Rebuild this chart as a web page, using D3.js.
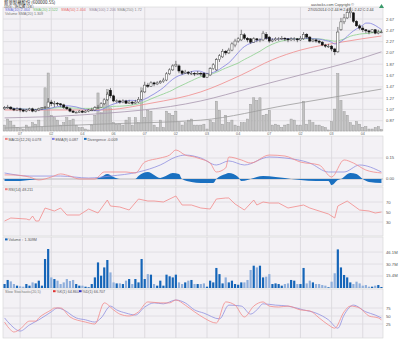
<!DOCTYPE html>
<html><head><meta charset="utf-8">
<script src="https://cdn.jsdelivr.net/npm/d3@7"></script>
<style>
body{margin:0;background:#fff}
svg{display:block}
text{font-family:"Liberation Sans",Arial,sans-serif}
</style></head>
<body><svg id="c" width="400" height="340"></svg>
<script>
// ---------- DATA ----------
const openP=[1.08,1.10,1.11,1.08,1.06,1.08,1.06,1.04,1.06,1.08, 1.04,1.06,1.08,1.10,1.11,1.20,1.17,1.18,1.17,1.15,
1.11,1.08,1.04,1.02,1.02,1.04,1.02,1.04,1.06,1.06, 1.10,1.11,1.17,1.24,1.41,1.31,1.22,1.22,1.20,1.22,
1.18,1.20,1.18,1.20,1.25,1.38,1.50,1.48,1.54,1.52, 1.54,1.56,1.59,1.70,1.77,1.84,1.84,1.75,1.71,1.73,
1.71,1.71,1.70,1.71,1.71,1.64,1.68,1.79,1.77,1.95, 2.00,2.10,2.07,2.12,2.21,2.28,2.30,2.39,2.33,2.32,
2.26,2.32,2.30,2.30,2.40,2.35,2.28,2.30,2.32,2.32, 2.33,2.32,2.30,2.32,2.32,2.30,2.32,2.40,2.35,2.28,
2.30,2.28,2.26,2.21,2.19,2.19,2.14,2.09,2.48,2.62, 2.69,2.78,2.78,2.63,2.55,2.51,2.48,2.46,2.44,2.48, 2.42,2.44];
const closeP=[1.10,1.11,1.08,1.06,1.08,1.06,1.04,1.06,1.08,1.04, 1.06,1.08,1.10,1.11,1.20,1.17,1.18,1.17,1.15,1.11,
1.08,1.04,1.02,1.02,1.04,1.02,1.04,1.06,1.06,1.10, 1.11,1.17,1.24,1.34,1.31,1.22,1.22,1.20,1.22,1.18,
1.20,1.18,1.20,1.25,1.38,1.50,1.48,1.54,1.52,1.54, 1.56,1.59,1.70,1.77,1.84,1.87,1.75,1.71,1.73,1.71,
1.71,1.70,1.71,1.70,1.64,1.70,1.79,1.86,1.95,2.02, 2.10,2.07,2.12,2.23,2.28,2.32,2.40,2.33,2.30,2.26,
2.32,2.30,2.30,2.42,2.33,2.28,2.30,2.32,2.32,2.33, 2.32,2.30,2.32,2.32,2.30,2.33,2.40,2.35,2.28,2.30,
2.28,2.26,2.21,2.19,2.19,2.14,2.09,2.44,2.62,2.69, 2.79,2.81,2.63,2.55,2.51,2.48,2.46,2.44,2.48,2.42, 2.44,2.44];
const highP=[1.13,1.15,1.13,1.10,1.11,1.10,1.08,1.08,1.10,1.10, 1.08,1.10,1.11,1.13,1.27,1.24,1.22,1.20,1.18,1.17,
1.13,1.10,1.06,1.04,1.06,1.06,1.06,1.08,1.10,1.13, 1.15,1.20,1.27,1.38,1.45,1.33,1.25,1.24,1.25,1.24,
1.24,1.22,1.24,1.29,1.41,1.56,1.54,1.57,1.56,1.57, 1.59,1.63,1.73,1.80,1.87,1.93,1.87,1.77,1.77,1.75,
1.75,1.73,1.75,1.73,1.73,1.71,1.82,1.89,1.98,2.05, 2.14,2.12,2.16,2.26,2.32,2.35,2.48,2.42,2.35,2.33,
2.35,2.33,2.33,2.46,2.44,2.37,2.33,2.35,2.35,2.37, 2.35,2.33,2.35,2.35,2.33,2.37,2.44,2.42,2.37,2.32,
2.32,2.30,2.28,2.23,2.23,2.21,2.16,2.53,2.69,2.76, 2.85,2.88,2.79,2.65,2.58,2.55,2.49,2.48,2.49,2.49, 2.48,2.48];
const lowP=[1.06,1.08,1.06,1.04,1.04,1.02,1.02,1.02,1.04,1.02, 1.02,1.04,1.06,1.08,1.10,1.13,1.11,1.13,1.11,1.08,
1.06,1.02,1.01,1.01,1.01,1.01,1.01,1.02,1.04,1.04, 1.08,1.10,1.15,1.22,1.27,1.20,1.18,1.17,1.18,1.17,
1.17,1.15,1.17,1.18,1.24,1.36,1.45,1.47,1.48,1.50, 1.52,1.54,1.57,1.68,1.75,1.82,1.71,1.68,1.70,1.68,
1.68,1.66,1.68,1.66,1.63,1.63,1.66,1.77,1.75,1.91, 1.98,2.03,2.05,2.10,2.17,2.25,2.28,2.30,2.26,2.23,
2.25,2.26,2.26,2.28,2.30,2.25,2.26,2.28,2.28,2.30, 2.28,2.26,2.28,2.28,2.26,2.28,2.30,2.32,2.26,2.26,
2.25,2.23,2.19,2.16,2.16,2.10,2.03,2.07,2.46,2.58, 2.67,2.69,2.60,2.53,2.48,2.44,2.42,2.40,2.42,2.40, 2.40,2.42];
const volumeM=[5.1,10.3,8.5,5.1,3.0,2.2,1.7,5.1,3.0,7.2, 5.9,9.4,3.0,37.2,50.0,13.6,11.5,9.4,5.1,7.2,
11.5,9.0,10.3,5.1,3.0,3.0,1.7,0.9,5.1,13.6, 32.8,15.8,26.4,35.9,20.0,7.2,5.9,6.0,5.1,9.4,
11.5,5.1,11.5,7.2,37.2,11.5,17.8,17.1,5.1,3.0, 9.4,3.0,17.1,15.0,13.6,17.1,7.2,5.1,7.2,9.4,
10.3,5.1,5.1,5.1,5.9,1.7,9.4,7.2,25.7,17.8, 5.9,13.6,7.2,9.4,5.1,4.2,7.2,7.2,10.3,23.1,
28.6,26.4,28.6,13.6,14.5,17.8,5.1,5.9,5.1,3.0, 5.1,5.9,10.3,9.4,5.1,5.1,25.7,5.9,9.4,7.2,
5.1,5.1,3.8,3.0,0.9,8.1,18.9,49.5,26.4,16.7, 13.6,7.2,5.1,8.1,5.9,3.0,3.8,1.7,1.7,3.0, 3.8,1.3];

// long moving averages (bar index, price)
const sma50Idx=[0,15,31,47,63,76,86,95,108,121];
const sma50Val=[1.06,1.06,1.06,1.18,1.38,1.68,1.95,2.12,2.26,2.37];
const sma100Idx=[0,24,63,79,95,112,121];
const sma100Val=[0.92,0.97,1.22,1.45,1.68,1.93,2.09];
const sma250Idx=[0,31,63,91,121];
const sma250Val=[0.74,0.81,0.88,1.15,1.43];

// MACD
const macdIdx=[0,2,8,11,15,18,21,24,29,32,34,39,42,45,50,53,55,58,61,63,66,68,71,72,76,79,85,90,95,101,105,109,112,116,121];
const macdVal=[0.029,0.029,0.014,-0.007,0.014,0.036,0.021,0.000,0.000,0.050,0.050,0.050,0.043,0.121,0.150,0.171,0.207,0.171,0.157,0.143,0.114,0.050,0.079,0.157,0.136,0.114,0.171,0.164,0.121,0.100,0.014,0.136,0.114,0.064,0.043];
const sigIdx=[0,8,18,27,34,43,50,55,58,63,68,72,77,85,90,98,104,109,114,121];
const sigVal=[0.043,0.021,0.021,0.007,0.021,0.050,0.100,0.157,0.171,0.150,0.100,0.129,0.100,0.157,0.150,0.114,0.050,0.050,0.100,0.050];
const divIdx=[0,5,8,13,18,24,29,31,33,35,37,42,43,46,48,50,51,54,56,57,60,63,67,68,71,72,75,76,78,79,81,83,87,90,92,95,100,104,105,107,108,111,113,115,117,121];
const divVal=[-0.014,-0.014,-0.007,0,0,0,0,0.014,0.036,0.014,0,0,0.021,0.050,0.029,0.007,0.014,0.043,0.036,0,-0.021,-0.029,-0.029,0,0.036,0.043,0.014,-0.014,-0.007,0,0.014,0.021,0.014,0.007,0,-0.007,-0.014,-0.014,-0.043,-0.007,0,0.043,0.036,0,-0.021,-0.029];

// RSI
const rsiIdx=[0,2,7,8,9,10,11,13,16,18,20,24,27,30,33,34,37,40,43,46,48,51,55,57,60,63,66,68,71,72,74,77,80,81,83,85,88,91,96,98,101,104,106,107,110,114,117,119,121];
const rsiVal=[32,38,36,34,42,32,32,58,52,58,44,44,56,48,74,62,60,54,76,72,72,70,82,64,64,58,56,76,78,78,66,54,74,64,70,68,68,58,64,58,52,46,38,62,72,54,52,48,50];

// Slow stochastic
const kIdx=[0,2,3,5,8,10,11,15,16,18,21,26,29,32,35,37,40,43,46,50,53,55,58,61,64,68,71,74,77,80,83,85,88,91,95,98,101,104,106,109,111,114,117,120,121];
const kVal=[31,6,0,9,34,34,44,69,75,75,47,31,25,91,69,56,50,63,94,91,91,100,84,63,44,28,94,84,47,81,94,81,78,81,69,66,44,22,12,63,81,75,50,44,38];
const dIdx=[0,2,5,8,11,15,17,19,23,26,29,31,34,36,39,42,45,48,51,55,58,61,64,69,72,76,79,81,83,87,91,96,100,104,107,109,112,116,119,121];
const dVal=[44,22,3,22,38,63,75,69,44,38,31,44,81,69,59,53,78,91,88,100,91,69,59,41,84,81,56,69,88,84,81,69,59,38,12,53,84,63,53,44];

// axes
const gridIdx=[5,15,25,35,45,55,65,75,85,95,105,115];
const dateLabels=["07","02","04","06","07","02","03","04","07","02","03","04"];
const priceTicks=[2.67,2.47,2.27,2.07,1.87,1.67,1.47,1.27,1.07,0.87];
const macdTicks=[0.15,0.00];
const rsiTicks=[70,50,30];
const volTicks=[15.4,30.7,46.1];
const stoTicks=[75,50,25];

// ---------- DRAW ----------
const N=closeP.length;
const svg=d3.select("#c");
const L=3,R=383;
const P={main:[7,131],macd:[136,186],rsi:[187,236],vol:[237,288],sto:[289,338]};
const x=d3.scaleBand().domain(d3.range(N)).range([L,R]).paddingInner(0.3).paddingOuter(0.15);
const cx=i=>x(i)+x.bandwidth()/2;

const yP=d3.scaleLinear().domain([0.688,2.883]).range([P.main[1],P.main[0]]);
const yV1=d3.scaleLinear().domain([0,50]).range([P.main[1],73]);
const yM=d3.scaleLinear().domain([-0.05,0.307]).range([P.macd[1],P.macd[0]]);
const yR=d3.scaleLinear().domain([0,100]).range([237,187]);
const yV=d3.scaleLinear().domain([0,65.4]).range([P.vol[1],P.vol[0]]);
const yS=d3.scaleLinear().domain([0,100]).range([332,300]);

const FS=4.2, LS=3.7;
function panel(key,ticks,scale,fmt){
  const [t,b]=P[key];
  const g=svg.append("g");
  g.append("rect").attr("x",L).attr("y",t).attr("width",R-L).attr("height",b-t)
   .attr("fill","#f3f1f5").attr("stroke","#d4d4d4").attr("stroke-width",0.6);
  g.selectAll(".v").data(gridIdx).join("line")
   .attr("x1",d=>cx(d)).attr("x2",d=>cx(d)).attr("y1",t).attr("y2",b)
   .attr("stroke","#d8d6da").attr("stroke-width",0.8);
  g.selectAll(".h").data(ticks).join("line")
   .attr("x1",L).attr("x2",R).attr("y1",d=>scale(d)).attr("y2",d=>scale(d))
   .attr("stroke","#dcdadf").attr("stroke-width",0.8);
  g.selectAll(".t").data(ticks).join("text")
   .attr("x",R+3).attr("y",d=>scale(d)+1.5).attr("font-size",FS).attr("fill","#555")
   .text(fmt);
  return g;
}

// main
panel("main",priceTicks,yP,d=>d.toFixed(2));
svg.append("g").selectAll("rect").data(volumeM).join("rect")
  .attr("x",(d,i)=>x(i)).attr("width",x.bandwidth())
  .attr("y",d=>yV1(d)).attr("height",d=>P.main[1]-yV1(d))
  .attr("fill","#c2c2c2").attr("stroke","#929292").attr("stroke-width",0.4);

// moving averages
const sma=(n)=>closeP.map((c,i)=>d3.mean(closeP.slice(Math.max(0,i-n+1),i+1)));
const sma10=sma(10), sma20=sma(20);
const lineP=d3.line().x(d=>cx(d[0])).y(d=>yP(d[1])).curve(d3.curveMonotoneX);
const zip=(a,b)=>a.map((v,i)=>[v,b[i]]);
const maG=svg.append("g").attr("fill","none").attr("stroke-width",0.8);
maG.append("path").attr("d",lineP(zip(sma250Idx,sma250Val))).attr("stroke","#9c9c9c");
maG.append("path").attr("d",lineP(zip(sma100Idx,sma100Val))).attr("stroke","#a796ad");
maG.append("path").attr("d",lineP(zip(sma50Idx,sma50Val))).attr("stroke","#f08a8a");
maG.append("path").attr("d",lineP(sma20.map((v,i)=>[i,v]))).attr("stroke","#8ccf8c");
maG.append("path").attr("d",lineP(sma10.map((v,i)=>[i,v]))).attr("stroke","#8080e0");

// candles
const cg=svg.append("g");
cg.selectAll("line").data(closeP).join("line")
  .attr("x1",(d,i)=>cx(i)).attr("x2",(d,i)=>cx(i))
  .attr("y1",(d,i)=>yP(highP[i])).attr("y2",(d,i)=>yP(lowP[i]))
  .attr("stroke","#333").attr("stroke-width",0.6);
cg.selectAll("rect").data(closeP).join("rect")
  .attr("x",(d,i)=>x(i)).attr("width",x.bandwidth())
  .attr("y",(d,i)=>yP(Math.max(openP[i],d)))
  .attr("height",(d,i)=>Math.max(0.8,Math.abs(yP(openP[i])-yP(d))))
  .attr("fill",(d,i)=>d>=openP[i]?"#ffffff":"#111")
  .attr("stroke",(d,i)=>d>=openP[i]?"#444":"#111").attr("stroke-width",0.5);

// date labels
svg.append("g").selectAll("text").data(gridIdx).join("text")
  .attr("x",d=>cx(d)).attr("y",134.6).attr("text-anchor","middle")
  .attr("font-size",LS).attr("fill","#666").text((d,i)=>dateLabels[i]);

// MACD
panel("macd",macdTicks,yM,d=>d.toFixed(2));
svg.append("line").attr("x1",L).attr("x2",R).attr("y1",yM(0)).attr("y2",yM(0)).attr("stroke","#aaa").attr("stroke-width",0.6);
svg.append("path").attr("d",d3.area().x(d=>cx(d[0])).y0(yM(0)).y1(d=>yM(d[1])).curve(d3.curveMonotoneX)(zip(divIdx,divVal)))
  .attr("fill","#1a70c0");
const lineM=d3.line().x(d=>cx(d[0])).y(d=>yM(d[1])).curve(d3.curveMonotoneX);
svg.append("path").attr("d",lineM(zip(sigIdx,sigVal))).attr("fill","none").attr("stroke","#8f8fe0").attr("stroke-width",0.8);
svg.append("path").attr("d",lineM(zip(macdIdx,macdVal))).attr("fill","none").attr("stroke","#f28a8a").attr("stroke-width",0.8);

// RSI
panel("rsi",rsiTicks,yR,d=>d);
svg.append("path").attr("d",d3.line().x(d=>cx(d[0])).y(d=>yR(d[1]))(zip(rsiIdx,rsiVal)))
  .attr("fill","none").attr("stroke","#f28a8a").attr("stroke-width",0.8);

// Volume
panel("vol",volTicks,yV,d=>d.toFixed(1)+"M");
svg.append("g").selectAll("rect").data(volumeM).join("rect")
  .attr("x",(d,i)=>x(i)).attr("width",x.bandwidth())
  .attr("y",d=>yV(d)).attr("height",d=>P.vol[1]-yV(d))
  .attr("fill",(d,i)=>closeP[i]>=openP[i]?"#1565b8":"#8eaedb");

// Stochastic
panel("sto",stoTicks,yS,d=>d);
const lineS=d3.line().x(d=>cx(d[0])).y(d=>yS(d[1])).curve(d3.curveMonotoneX);
svg.append("path").attr("d",lineS(zip(dIdx,dVal))).attr("fill","none").attr("stroke","#8f8fe0").attr("stroke-width",0.8);
svg.append("path").attr("d",lineS(zip(kIdx,kVal))).attr("fill","none").attr("stroke","#f28a8a").attr("stroke-width",0.8);

// ---------- TEXT ----------
function txt(xp,yp,s,col,size,weight,family){
  const t=svg.append("text").attr("x",xp).attr("y",yp).attr("font-size",size||LS).attr("fill",col||"#444").text(s);
  if(weight) t.attr("font-weight",weight);
  if(family) t.style("font-family",family);
  return t;
}
function key(xp,yp,col,s,tc){
  svg.append("rect").attr("x",xp).attr("y",yp-2.6).attr("width",2.6).attr("height",2).attr("fill",col);
  txt(xp+3.4,yp,s,tc||"#555");
}
txt(4,4.2,"新華製藥股份 (600000.SS)","#222",4.4,null,"'Noto Sans CJK TC',sans-serif");
txt(4,8.1,"1D(5) - 陰陽燭 (1年)","#444",3.4,null,"'Noto Sans CJK TC',sans-serif");
txt(5,11.4,"SMA(10) 2.464","#6a6ad8");
txt(33,11.4,"SMA(20) 2.522","#6dbf6d");
txt(61,11.4,"SMA(50) 2.404","#e86a6a");
txt(89,11.4,"SMA(100) 2.206","#9a8aa0");
txt(117,11.4,"SMA(250) 1.72","#8a8a8a");
txt(5,15.2,"Volume SMA(20) 1.309","#777");
txt(311,6.2,"aastocks.com Copyright ©","#444");
txt(308,10.5,"27/05/2014   O:2.44  H:2.48  L:2.42  C:2.44","#444");
svg.append("path").attr("d","M379,8 l2.5,-4 l2.5,4 z").attr("fill","#3a9a6a");

key(5,140.5,"#f08080","MACD(12,26) 0.078");
key(52,140.5,"#7c7ce0","EMA(9) 0.087");
key(84,140.5,"#1a70c0","Divergence -0.009");
key(5,190.8,"#f08080","RSI(14) 48.211");
key(5,241,"#1565b8","Volume ↑ 1.309M");
txt(5,292.8,"Slow Stochastic(20,5)","#777");
key(53,292.8,"#e03030","%K(1) 64.860");
key(79,292.8,"#3030c0","%D(1) 66.707");
</script></body></html>
